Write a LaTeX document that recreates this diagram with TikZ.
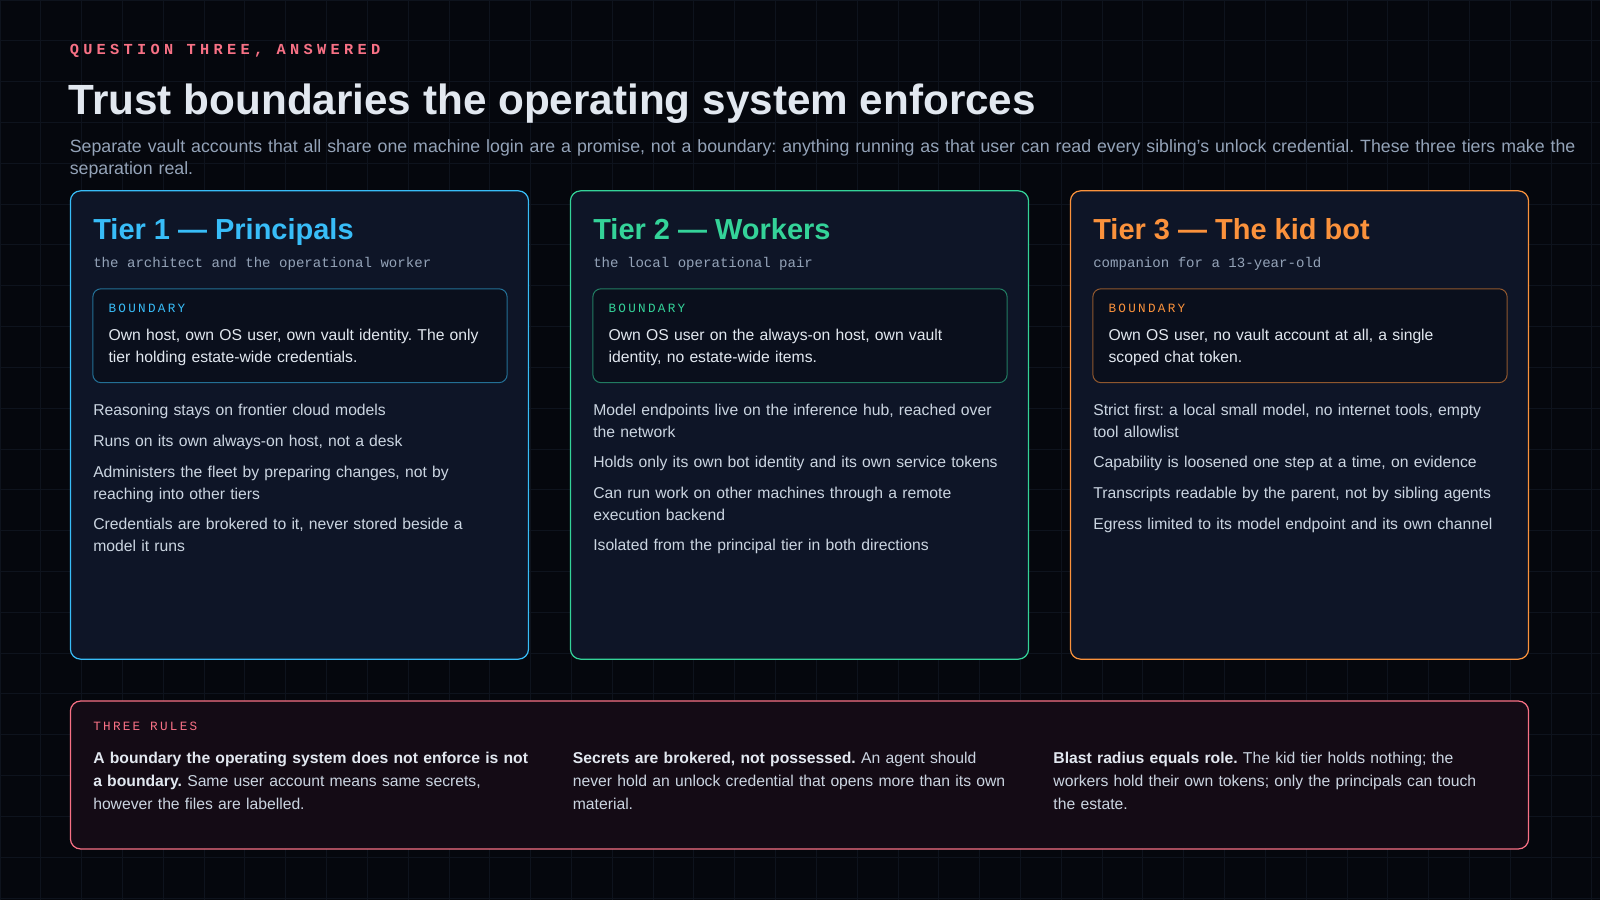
\documentclass[tikz,border=0pt]{standalone}
\usepackage{fontspec}
\setmainfont{Liberation Sans}
\newfontfamily\monof{Liberation Mono}
\newfontfamily\monosp[LetterSpace=28]{Liberation Mono}
\newfontfamily\monosm[LetterSpace=18]{Liberation Mono}
\frenchspacing
\hyphenpenalty=10000
\exhyphenpenalty=10000
\definecolor{bg}{HTML}{05070D}
\definecolor{gridc}{HTML}{0E131D}
\definecolor{cardf}{HTML}{0E1527}
\definecolor{boxf}{HTML}{0A0F1C}
\definecolor{cblue}{HTML}{38BDF8}
\definecolor{cgreen}{HTML}{34D399}
\definecolor{corange}{HTML}{FB923C}
\definecolor{cred}{HTML}{F87185}
\definecolor{rulef}{HTML}{140B15}
\definecolor{txt}{HTML}{E2E8F0}
\definecolor{mut}{HTML}{94A3B8}
\definecolor{body}{HTML}{CBD5E1}
\begin{document}
\begin{tikzpicture}[x=0.5pt,y=-0.5pt,
 card/.style={draw=#1,line width=0.6pt,rounded corners=5pt,fill=cardf},
 bbox/.style={draw=#1!55!boxf,line width=0.5pt,rounded corners=4pt,fill=boxf},
 head/.style={anchor=base west,inner sep=0,text=#1,font=\fontsize{14.2}{17}\selectfont\bfseries},
 sub/.style={anchor=west,inner sep=0,text=mut,font=\monof\fontsize{6.9}{8}\selectfont},
 blab/.style={anchor=west,inner sep=0,text=#1,font=\monosm\fontsize{6.2}{8}\selectfont},
 btxt/.style={anchor=north west,inner sep=0,text=txt,text width=184pt,align=left,font=\fontsize{7.7}{11}\selectfont},
 item/.style={anchor=north west,inner sep=0,text=body,text width=200pt,align=left,font=\fontsize{7.7}{10.75}\selectfont},
 rule/.style={anchor=north west,inner sep=0,text=body,text width=222pt,align=left,font=\fontsize{7.7}{11.25}\selectfont},
]
\useasboundingbox (0,0) rectangle (1568,882);
\fill[bg] (0,0) rectangle (1568,882);
\foreach \i in {0,40,...,1560} \draw[gridc,line width=0.4pt] (\i,0) -- (\i,882);
\foreach \j in {0,40,...,880} \draw[gridc,line width=0.4pt] (0,\j) -- (1568,\j);

\node[anchor=west,inner sep=0,text=cred,font=\monosp\bfseries\fontsize{7.5}{9}\selectfont] (eyebrow) at (68,50) {QUESTION THREE, ANSWERED};
\node[anchor=base west,inner sep=0,text=txt,font=\fontsize{20.7}{25}\selectfont\bfseries] (title) at (67,112) {Trust boundaries the operating system enforces};
\node[anchor=north west,inner sep=0,text=mut,text width=740pt,align=left,font=\fontsize{8.7}{10.8}\selectfont] (lede) at (68,136) {Separate vault accounts that all share one machine login are a promise, not a boundary: anything running as that user can read every sibling's unlock credential. These three tiers make the separation real.};

% cards
\foreach \x/\c/\n in {69/cblue/c1,559/cgreen/c2,1049/corange/c3}{
  \draw[card=\c] (\x,187) rectangle ++(449,459);
  \draw[bbox=\c] (\x+22,283) rectangle ++(406,92);
}
\node[head=cblue] (h1) at (91,235) {Tier 1 — Principals};
\node[head=cgreen] (h2) at (581,235) {Tier 2 — Workers};
\node[head=corange] (h3) at (1071,235) {Tier 3 — The kid bot};
\node[sub] (s1) at (91,259) {the architect and the operational worker};
\node[sub] (s2) at (581,259) {the local operational pair};
\node[sub] (s3) at (1071,259) {companion for a 13-year-old};
\node[blab=cblue] (b1) at (106,302) {BOUNDARY};
\node[blab=cgreen] (b2) at (596,302) {BOUNDARY};
\node[blab=corange] (b3) at (1086,302) {BOUNDARY};
\node[btxt] (t1) at (106,322) {Own host, own OS user, own vault identity. The only tier holding estate-wide credentials.};
\node[btxt] (t2) at (596,322) {Own OS user on the always-on host, own vault identity, no estate-wide items.};
\node[btxt] (t3) at (1086,322) {Own OS user, no vault account at all, a single scoped chat token.};

\node[item] (i11) at (91,396) {Reasoning stays on frontier cloud models};
\node[item] (i12) at (91,426) {Runs on its own always-on host, not a desk};
\node[item] (i13) at (91,456) {Administers the fleet by preparing changes, not by reaching into other tiers};
\node[item] (i14) at (91,507) {Credentials are brokered to it, never stored beside a model it runs};

\node[item] (i21) at (581,396) {Model endpoints live on the inference hub, reached over the network};
\node[item] (i22) at (581,447) {Holds only its own bot identity and its own service tokens};
\node[item] (i23) at (581,477) {Can run work on other machines through a remote execution backend};
\node[item] (i24) at (581,528) {Isolated from the principal tier in both directions};

\node[item] (i31) at (1071,396) {Strict first: a local small model, no internet tools, empty tool allowlist};
\node[item] (i32) at (1071,447) {Capability is loosened one step at a time, on evidence};
\node[item] (i33) at (1071,477) {Transcripts readable by the parent, not by sibling agents};
\node[item] (i34) at (1071,507) {Egress limited to its model endpoint and its own channel};

% rules
\draw[draw=cred,line width=0.6pt,rounded corners=5pt,fill=rulef] (69,687) rectangle (1498,832);
\node[blab=cred] (rl) at (91,712) {THREE RULES};
\node[rule] (r1) at (91,737) {\textcolor{txt}{\bfseries A boundary the operating system does not enforce is not\newline a boundary.} Same user account means same secrets,\newline however the files are labelled.};
\node[rule] (r2) at (561,737) {\textcolor{txt}{\bfseries Secrets are brokered, not possessed.} An agent should never hold an unlock credential that opens more than its own material.};
\node[rule] (r3) at (1032,737) {\textcolor{txt}{\bfseries Blast radius equals role.} The kid tier holds nothing; the workers hold their own tokens; only the principals can touch the estate.};
\end{tikzpicture}
\end{document}
